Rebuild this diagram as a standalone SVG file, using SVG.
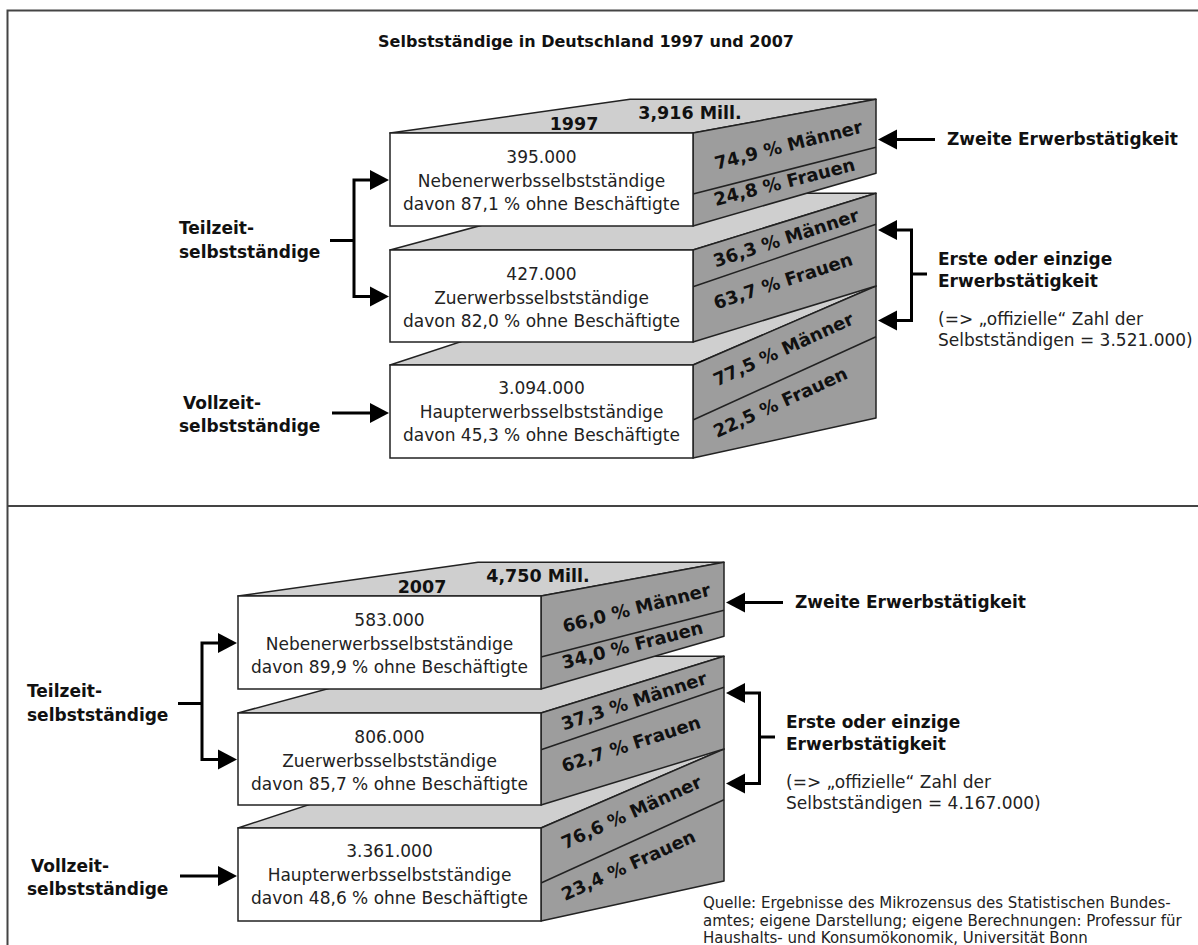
<svg xmlns="http://www.w3.org/2000/svg" width="1198" height="945" viewBox="0 0 1198 945">
<defs>
<style>
.top{fill:#cfcfcf;stroke:#222;stroke-width:1.5;stroke-linejoin:round}
.side{fill:#9d9d9d;stroke:#222;stroke-width:1.5;stroke-linejoin:round}
.front{fill:#fff;stroke:#222;stroke-width:1.5}
.dv{stroke:#222;stroke-width:1.5;fill:none}
.ft{font-family:"DejaVu Sans",Verdana,sans-serif;font-size:17px;fill:#222;text-anchor:middle}
.st{font-family:"DejaVu Sans",Verdana,sans-serif;font-weight:bold;font-size:18px;fill:#111;text-anchor:middle}
.hd{font-family:"DejaVu Sans",Verdana,sans-serif;font-weight:bold;font-size:17.5px;fill:#111;text-anchor:middle}
.lb{font-family:"DejaVu Sans",Verdana,sans-serif;font-weight:bold;font-size:17px;fill:#111}
.nt{font-family:"DejaVu Sans",Verdana,sans-serif;font-size:17px;fill:#222}
.src{font-family:"DejaVu Sans",Verdana,sans-serif;font-size:15px;fill:#222}
.cn{stroke:#000;stroke-width:3;fill:none}
.ah{fill:#000}
.frame{stroke:#444;stroke-width:2;fill:none}
</style>
<polygon id="ahR" class="ah" points="-19,-10 0,0 -19,10"/>
<polygon id="ahL" class="ah" points="19,-10 0,0 19,10"/>
</defs>
<rect x="0" y="0" width="1198" height="945" fill="#fff"/>
<g id="frame">
<path class="frame" d="M7.5,945 V10.5 H1198 M7.5,506 H1198"/>
</g>
<text id="title" x="586" y="47" class="lb" text-anchor="middle" style="font-size:16px">Selbstständige in Deutschland 1997 und 2007</text>

<g id="section1997">
<g id="box1997-3">
<polygon class="top" points="390,365 630,286 876,286 693,365"/>
<polygon class="side" points="693,365 876,286 876,418 693,458"/>
<line class="dv" x1="693" y1="420" x2="876" y2="336.7"/>
<rect class="front" x="390" y="365" width="303" height="93"/>
<text class="ft" x="541.5" y="394">3.094.000</text>
<text class="ft" x="541.5" y="417.5">Haupterwerbsselbstständige</text>
<text class="ft" x="541.5" y="441">davon 45,3 % ohne Beschäftigte</text>
<text class="st" x="786" y="355" transform="rotate(-24.5 786 355)">77,5 % Männer</text>
<text class="st" x="783" y="408" transform="rotate(-24.5 783 408)">22,5 % Frauen</text>
</g>
<g id="box1997-2">
<polygon class="top" points="390,250 600,193.3 876,193.3 693,250"/>
<polygon class="side" points="693,250 876,193.3 876,286 693,342"/>
<line class="dv" x1="693" y1="286.7" x2="876" y2="224.3"/>
<rect class="front" x="390" y="250" width="303" height="92"/>
<text class="ft" x="541.5" y="280">427.000</text>
<text class="ft" x="541.5" y="303.5">Zuerwerbsselbstständige</text>
<text class="ft" x="541.5" y="327">davon 82,0 % ohne Beschäftigte</text>
<text class="st" x="788" y="244" transform="rotate(-18 788 244)">36,3 % Männer</text>
<text class="st" x="785" y="287" transform="rotate(-18 785 287)">63,7 % Frauen</text>
</g>
<g id="box1997-1">
<polygon class="top" points="390,133 630,99.3 876,99.3 693,133"/>
<polygon class="side" points="693,133 876,99.3 876,173.3 693,226"/>
<line class="dv" x1="693" y1="194" x2="876" y2="147.3"/>
<rect class="front" x="390" y="133" width="303" height="93"/>
<text class="hd" x="574" y="129.5">1997</text>
<text class="hd" x="690" y="118.5">3,916 Mill.</text>
<text class="ft" x="541.5" y="163">395.000</text>
<text class="ft" x="541.5" y="186.5">Nebenerwerbsselbstständige</text>
<text class="ft" x="541.5" y="210">davon 87,1 % ohne Beschäftigte</text>
<text class="st" x="790" y="151" transform="rotate(-14.3 790 151)">74,9 % Männer</text>
<text class="st" x="786" y="188" transform="rotate(-14.3 786 188)">24,8 % Frauen</text>
</g>
<g id="labels1997">
<text class="lb" x="179" y="234">Teilzeit-</text>
<text class="lb" x="179" y="257.5">selbstständige</text>
<text class="lb" x="183" y="409">Vollzeit-</text>
<text class="lb" x="179" y="432">selbstständige</text>
<text class="lb" x="947" y="145">Zweite Erwerbstätigkeit</text>
<text class="lb" x="938" y="265">Erste oder einzige</text>
<text class="lb" x="938" y="287">Erwerbstätigkeit</text>
<text class="nt" x="938" y="325">(=&gt; „offizielle“ Zahl der</text>
<text class="nt" x="938" y="346">Selbstständigen = 3.521.000)</text>
</g>
<g id="connectors1997">
<path class="cn" d="M330,240.5 H354 M371,180 H354 V296.5 H371"/>
<use href="#ahR" x="389" y="180"/>
<use href="#ahR" x="389" y="296.5"/>
<path class="cn" d="M332,413 H371"/>
<use href="#ahR" x="389" y="413"/>
<path class="cn" d="M935,139.5 H895"/>
<use href="#ahL" x="878" y="139.5"/>
<path class="cn" d="M895,230 H911.5 V320.5 H895 M911.5,274 H927"/>
<use href="#ahL" x="878" y="230"/>
<use href="#ahL" x="878" y="320.5"/>
</g>
</g>

<g id="section2007" transform="translate(-152,463)">
<g id="box2007-3">
<polygon class="top" points="390,365 630,286 876,286 693,365"/>
<polygon class="side" points="693,365 876,286 876,418 693,458"/>
<line class="dv" x1="693" y1="420" x2="876" y2="336.7"/>
<rect class="front" x="390" y="365" width="303" height="93"/>
<text class="ft" x="541.5" y="394">3.361.000</text>
<text class="ft" x="541.5" y="417.5">Haupterwerbsselbstständige</text>
<text class="ft" x="541.5" y="441">davon 48,6 % ohne Beschäftigte</text>
<text class="st" x="786" y="355" transform="rotate(-24.5 786 355)">76,6 % Männer</text>
<text class="st" x="783" y="408" transform="rotate(-24.5 783 408)">23,4 % Frauen</text>
</g>
<g id="box2007-2">
<polygon class="top" points="390,250 600,193.3 876,193.3 693,250"/>
<polygon class="side" points="693,250 876,193.3 876,286 693,342"/>
<line class="dv" x1="693" y1="286.7" x2="876" y2="224.3"/>
<rect class="front" x="390" y="250" width="303" height="92"/>
<text class="ft" x="541.5" y="280">806.000</text>
<text class="ft" x="541.5" y="303.5">Zuerwerbsselbstständige</text>
<text class="ft" x="541.5" y="327">davon 85,7 % ohne Beschäftigte</text>
<text class="st" x="788" y="244" transform="rotate(-18 788 244)">37,3 % Männer</text>
<text class="st" x="785" y="287" transform="rotate(-18 785 287)">62,7 % Frauen</text>
</g>
<g id="box2007-1">
<polygon class="top" points="390,133 630,99.3 876,99.3 693,133"/>
<polygon class="side" points="693,133 876,99.3 876,173.3 693,226"/>
<line class="dv" x1="693" y1="194" x2="876" y2="147.3"/>
<rect class="front" x="390" y="133" width="303" height="93"/>
<text class="hd" x="574" y="129.5">2007</text>
<text class="hd" x="690" y="118.5">4,750 Mill.</text>
<text class="ft" x="541.5" y="163">583.000</text>
<text class="ft" x="541.5" y="186.5">Nebenerwerbsselbstständige</text>
<text class="ft" x="541.5" y="210">davon 89,9 % ohne Beschäftigte</text>
<text class="st" x="790" y="151" transform="rotate(-14.3 790 151)">66,0 % Männer</text>
<text class="st" x="786" y="188" transform="rotate(-14.3 786 188)">34,0 % Frauen</text>
</g>
<g id="labels2007">
<text class="lb" x="179" y="234">Teilzeit-</text>
<text class="lb" x="179" y="257.5">selbstständige</text>
<text class="lb" x="183" y="409">Vollzeit-</text>
<text class="lb" x="179" y="432">selbstständige</text>
<text class="lb" x="947" y="145">Zweite Erwerbstätigkeit</text>
<text class="lb" x="938" y="265">Erste oder einzige</text>
<text class="lb" x="938" y="287">Erwerbstätigkeit</text>
<text class="nt" x="938" y="325">(=&gt; „offizielle“ Zahl der</text>
<text class="nt" x="938" y="346">Selbstständigen = 4.167.000)</text>
</g>
<g id="connectors2007">
<path class="cn" d="M330,240.5 H354 M371,180 H354 V296.5 H371"/>
<use href="#ahR" x="389" y="180"/>
<use href="#ahR" x="389" y="296.5"/>
<path class="cn" d="M332,413 H371"/>
<use href="#ahR" x="389" y="413"/>
<path class="cn" d="M935,139.5 H895"/>
<use href="#ahL" x="878" y="139.5"/>
<path class="cn" d="M895,230 H911.5 V320.5 H895 M911.5,274 H927"/>
<use href="#ahL" x="878" y="230"/>
<use href="#ahL" x="878" y="320.5"/>
</g>
</g>

<g id="source">
<text class="src" x="703" y="908">Quelle: Ergebnisse des Mikrozensus des Statistischen Bundes-</text>
<text class="src" x="703" y="925.5">amtes; eigene Darstellung; eigene Berechnungen: Professur für</text>
<text class="src" x="703" y="943">Haushalts- und Konsumökonomik, Universität Bonn</text>
</g>
</svg>
